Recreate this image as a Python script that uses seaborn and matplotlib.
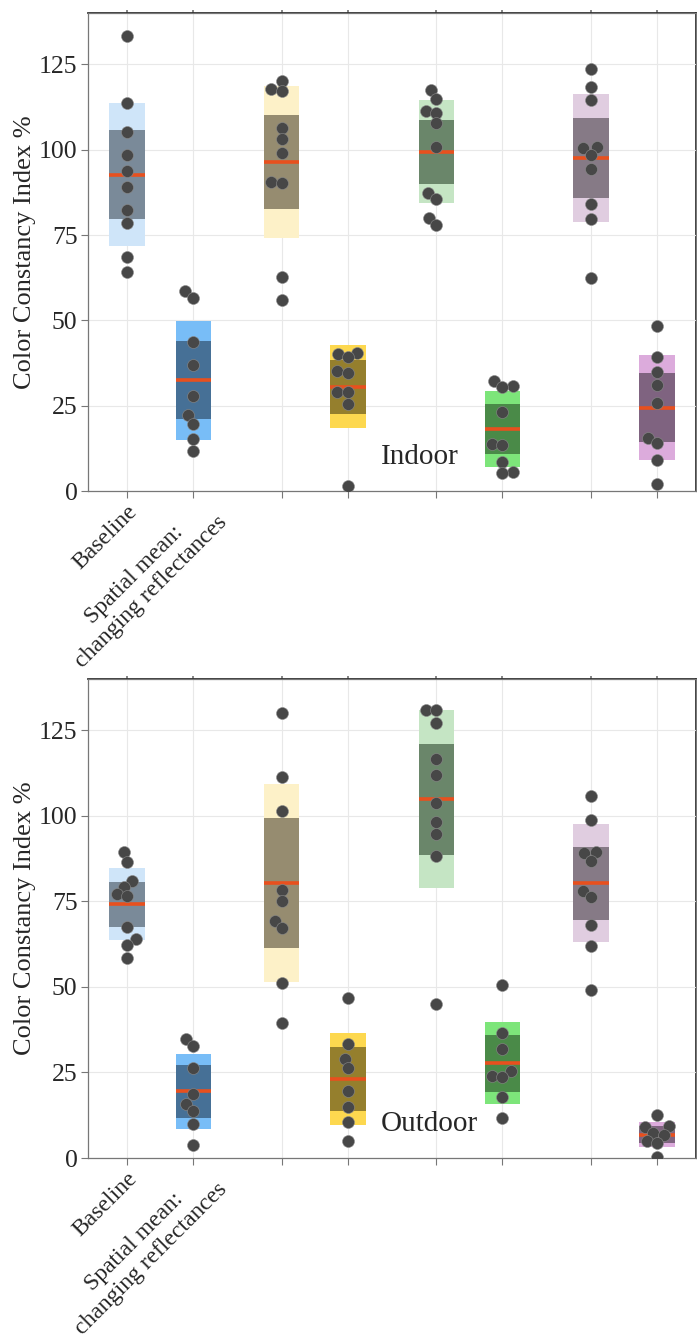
import numpy as np
import pandas as pd
import seaborn as sns
import matplotlib
matplotlib.use("Agg")
import matplotlib.pyplot as plt

sns.set_theme(style="ticks")
plt.rcParams['font.family'] = ['Liberation Serif', 'DejaVu Serif']

# values, one list per condition
conditions = ["Baseline", "Spatial mean:\nchanging reflectances", "", "", "", "", "", ""]
indoor_values = [
    [133.3, 113.6, 105.2, 98.6, 93.7, 89.0, 82.4, 78.6, 68.6, 64.2],
    [58.6, 56.7, 43.6, 36.8, 27.9, 22.2, 19.7, 15.2, 11.8],
    [120.3, 117.8, 117.2, 106.5, 103.2, 99.0, 90.5, 90.2, 62.8, 56.0],
    [40.5, 40.3, 39.2, 35.1, 34.7, 29.1, 28.9, 25.4, 1.5],
    [117.4, 114.8, 111.5, 110.9, 107.8, 100.9, 87.4, 85.7, 80.1, 78.1],
    [32.3, 30.8, 30.6, 23.1, 13.8, 13.5, 8.4, 5.5, 5.3],
    [123.6, 118.3, 114.5, 100.8, 100.4, 98.4, 94.3, 84.1, 79.7, 62.3],
    [48.3, 39.3, 35.0, 31.1, 25.9, 15.4, 14.0, 9.0, 2.1],
]
outdoor_values = [
    [89.4, 86.6, 81.1, 79.3, 77.2, 76.5, 67.4, 63.9, 62.3, 58.5],
    [34.9, 32.8, 26.2, 18.6, 15.9, 13.7, 9.8, 3.7],
    [130.0, 111.4, 101.5, 78.4, 75.1, 69.4, 67.2, 51.3, 39.5],
    [46.7, 33.2, 29.0, 26.2, 19.7, 14.9, 10.4, 5.0],
    [131.1, 131.1, 127.3, 116.6, 112.1, 103.7, 98.1, 94.8, 88.3, 44.9],
    [50.6, 36.5, 31.8, 25.4, 24.1, 23.7, 17.7, 11.8],
    [105.9, 98.8, 89.4, 89.1, 86.8, 78.1, 76.3, 68.0, 61.9, 49.1],
    [12.7, 9.3, 9.0, 7.3, 6.8, 5.0, 4.5, 0.2],
]

positions = [1, 1.75, 2.75, 3.5, 4.5, 5.25, 6.25, 7]
sd_colors = ["#cfe5f9", "#78bdf7", "#fdf1c8", "#fdd84f",
             "#c5e5c4", "#7de57a", "#e0cde0", "#dcabdc"]
sem_colors = ["#7a8a99", "#467096", "#968c70", "#957f2d",
              "#6a866a", "#4a8a48", "#867a86", "#7f6380"]
box_w = 0.4
yticks = [0, 25, 50, 75, 100, 125]


def panel(ax, values, title):
    rows = []
    for p, vals in zip(positions, values):
        for v in vals:
            rows.append({"pos": p, "value": v})
    df = pd.DataFrame(rows)

    # light box = 1 SD, dark box = 95% SEM, red = mean
    for i, (p, vals) in enumerate(zip(positions, values)):
        v = np.array(vals)
        m = v.mean()
        sd = v.std(ddof=1)
        ci = 1.96 * sd / np.sqrt(len(v))
        ax.bar(p, 2 * sd, bottom=m - sd, width=box_w, color=sd_colors[i],
               linewidth=0, zorder=1)
        ax.bar(p, 2 * ci, bottom=m - ci, width=box_w, color=sem_colors[i],
               linewidth=0, zorder=1.5)
        ax.hlines(m, p - box_w / 2, p + box_w / 2, color="#e8501e",
                  linewidth=2.6, zorder=2)

    n_before = len(ax.collections)
    sns.swarmplot(data=df, x="pos", y="value", native_scale=True, ax=ax,
                  size=6.8, color="#474747", edgecolor="#8a8a8a", linewidth=0.4,
                  zorder=3)

    ax.set_xlim(0.56, 7.44)
    ax.set_ylim(0, 140)
    ax.set_xticks(positions)
    # the two-line label sits a little further up/right than a plain tick label
    ax.set_xticklabels([conditions[0]] + [""] * 7, rotation=45, ha="right",
                       va="top", rotation_mode="anchor", fontsize=17)
    ax.annotate(conditions[1], xy=(positions[1], 0),
                xycoords=("data", "axes fraction"), xytext=(4.3, -2.8),
                textcoords="offset points", rotation=45, ha="right", va="top",
                rotation_mode="anchor", multialignment="center", fontsize=17,
                annotation_clip=False)
    ax.set_yticks(yticks)
    ax.tick_params(axis="y", labelsize=18.5, pad=2.5)
    ax.tick_params(axis="x", pad=2)
    ax.tick_params(direction="out", length=5, color="#777777", width=0.8)
    ax.set_xlabel("")
    ax.set_ylabel("Color Constancy Index %", fontsize=19, labelpad=2)
    ax.grid(True, color="#e8e8e8", linewidth=0.8)
    ax.set_axisbelow(True)
    for s in ax.spines.values():
        s.set_color("#777777")
        s.set_linewidth(0.9)
        s.set_visible(True)
    top = ax.secondary_xaxis("top")
    top.set_xticks(positions)
    top.tick_params(length=2.5, labeltop=False, color="#777777")
    right = ax.secondary_yaxis("right")
    right.set_yticks(yticks)
    right.tick_params(length=2.5, labelright=False, color="#777777")
    ax.text(3.87, 10, title, fontsize=21, ha="left", va="center")
    return ax.collections[n_before:]


fig = plt.figure(figsize=(6.97, 13.42), dpi=100)
ax1 = fig.add_axes([0.1263, 0.6341, 0.8723, 0.3560])
ax2 = fig.add_axes([0.1263, 0.1371, 0.8723, 0.3569])
swarms = panel(ax1, indoor_values, "Indoor") + panel(ax2, outdoor_values, "Outdoor")

# lay the swarm out once, then draw the dots a bit bigger so they overlap
fig.canvas.draw()
for coll in swarms:
    if "draw" in coll.__dict__:
        del coll.draw
    coll.set_sizes([8.6 ** 2])

fig.savefig("out.png", dpi=100)
